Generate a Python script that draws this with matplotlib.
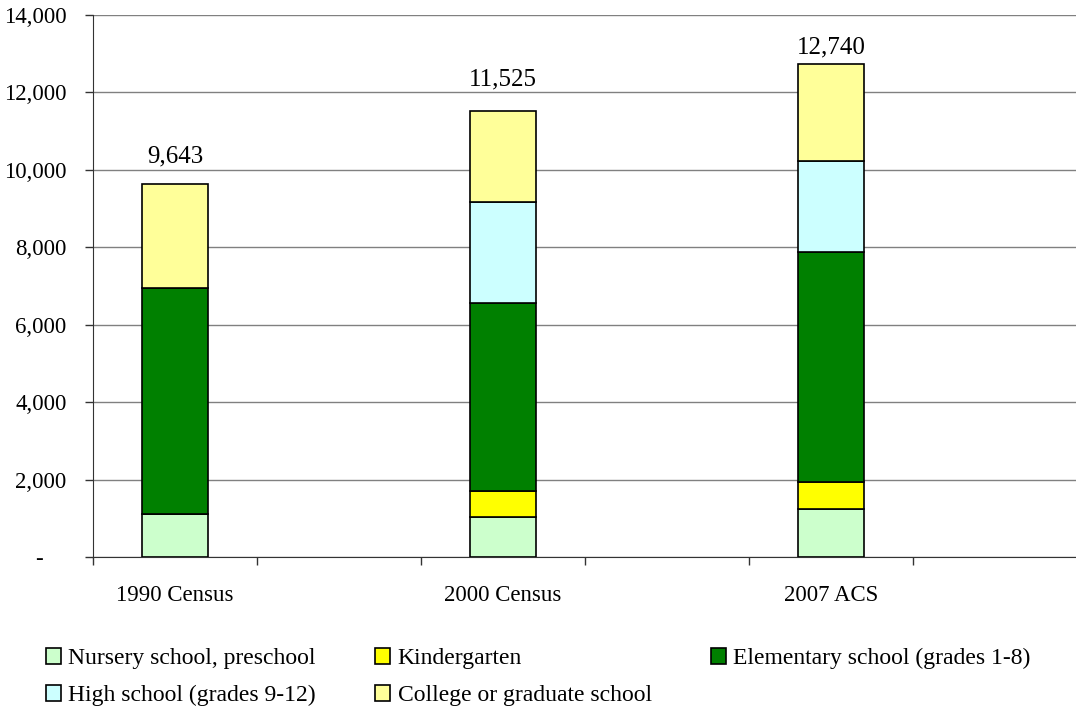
import matplotlib
matplotlib.use('Agg')
import matplotlib.pyplot as plt
import numpy as np
from matplotlib.ticker import FuncFormatter

# data
years = ['1990 Census', '2000 Census', '2007 ACS']
nursery = [1100, 1045, 1235]
kindergarten = [0, 665, 715]
elementary = [5850, 4840, 5920]
high_school = [0, 2610, 2365]
college = [2693, 2365, 2505]
totals = [9643, 11525, 12740]

series = [
    ('Nursery school, preschool', nursery, '#CCFFCC'),
    ('Kindergarten', kindergarten, '#FFFF00'),
    ('Elementary school (grades 1-8)', elementary, '#008000'),
    ('High school (grades 9-12)', high_school, '#CCFFFF'),
    ('College or graduate school', college, '#FFFF99'),
]

# total labels are not all at the same height above the bars in the original
label_offsets = [12, 15, 4]

plt.rcParams['font.family'] = ['Liberation Serif', 'DejaVu Serif']

fig = plt.figure(figsize=(10.76, 7.09), dpi=100)
# axes runs a little past the right edge, like the original
ax = fig.add_axes([93 / 1076, 1 - 557 / 709, 984 / 1076, 542 / 709])

# bars sit in every other slot of six
x = np.arange(len(years)) * 2
bottom = np.zeros(len(years))
handles = {}
for name, vals, col in series:
    vals = np.array(vals, dtype=float)
    b = ax.bar(x, vals, width=0.4, bottom=bottom, color=col,
               edgecolor='black', linewidth=1.2, label=name, zorder=3)
    handles[name] = b
    bottom += vals

for xi, t, off in zip(x, totals, label_offsets):
    ax.annotate(f'{t:,}', (xi, t), xytext=(0, off), textcoords='offset points',
                ha='center', va='bottom', fontsize=18)

ax.set_xlim(-0.5, 5.5)
ax.set_ylim(0, 14000)
ax.set_yticks(np.arange(0, 14001, 2000))
# accounting style: zero shows as a dash with some padding after it
ax.yaxis.set_major_formatter(FuncFormatter(lambda v, p: '-    ' if v == 0 else f'{int(v):,}'))
ax.grid(axis='y', color='#808080', linewidth=1, zorder=0)

# tick marks between categories, labels under the bars
ax.set_xticks(np.arange(-0.5, 5.6, 1))
ax.set_xticklabels([])
ax.set_xticks(x, minor=True)
ax.set_xticklabels(years, minor=True)
ax.tick_params(axis='x', which='minor', length=0, pad=20, labelsize=16.5)
ax.tick_params(axis='x', which='major', length=6, width=1, color='#333333')
ax.tick_params(axis='y', length=6, width=1, color='#333333', labelsize=16.5, pad=13)

for s in ['top', 'right']:
    ax.spines[s].set_visible(False)
ax.spines['left'].set_color('#333333')
ax.spines['bottom'].set_color('#333333')

# legend fills column-wise, so reorder to read row-wise
order = ['Nursery school, preschool', 'High school (grades 9-12)',
         'Kindergarten', 'College or graduate school',
         'Elementary school (grades 1-8)']
fig.legend([handles[n] for n in order], order, ncol=3, loc='upper left',
           bbox_to_anchor=(46 / 1076, 1 - 648 / 709), frameon=False,
           borderpad=0, borderaxespad=0,
           fontsize=17, handlelength=0.65, handleheight=0.65, handletextpad=0.3,
           columnspacing=2.5, labelspacing=0.68)

fig.savefig('out.png', dpi=100)
